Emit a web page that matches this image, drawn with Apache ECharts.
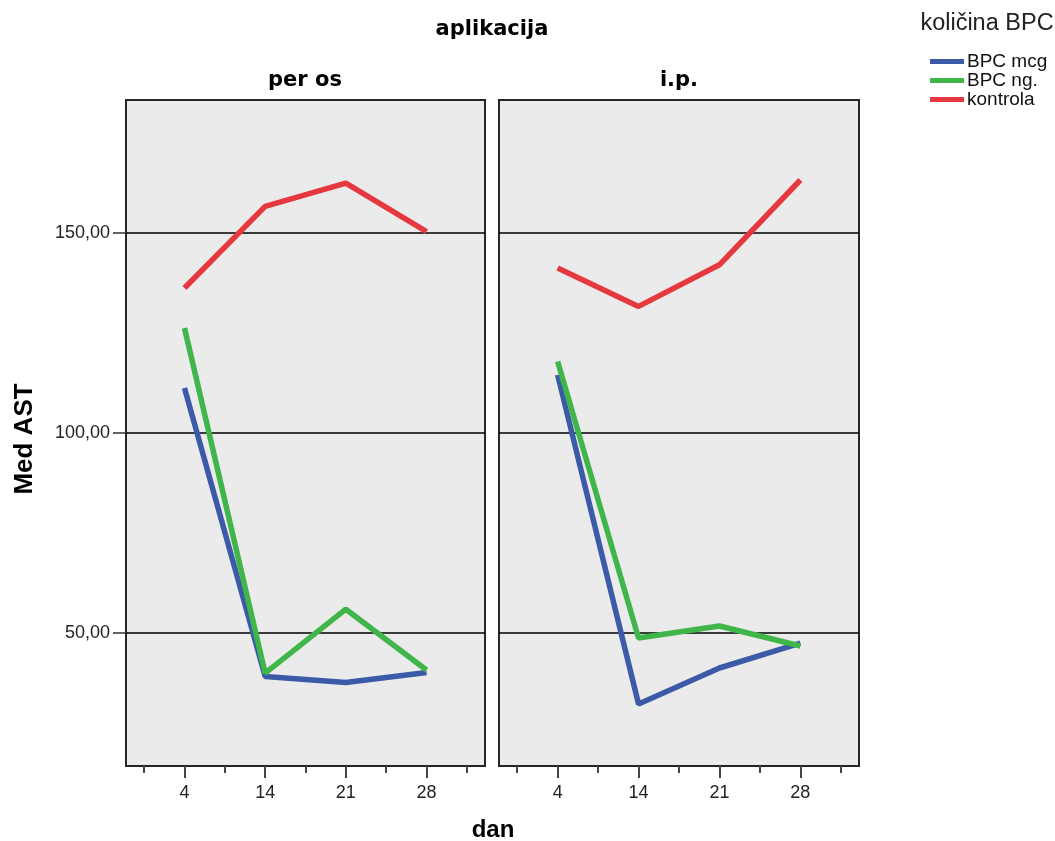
<!DOCTYPE html>
<html>
<head>
<meta charset="utf-8">
<script src="https://cdn.jsdelivr.net/npm/echarts@6/dist/echarts.min.js"></script>
<style>html,body{margin:0;padding:0;background:#fff;}#c{width:1055px;height:841px;}</style>
</head>
<body>
<div id="c"></div>
<script>
// ---- data ----
const days = ['4', '14', '21', '28'];
const panels = ['per os', 'i.p.'];
const seriesNames = ['BPC mcg', 'BPC ng.', 'kontrola'];
const perOsMcg = [111.3, 39.2, 37.7, 40.2];
const perOsNg = [126.3, 40.0, 56.0, 40.8];
const perOsKontrola = [136.3, 156.7, 162.5, 150.4];
const ipMcg = [114.6, 32.3, 41.3, 47.5];
const ipNg = [117.9, 48.8, 51.8, 46.8];
const ipKontrola = [141.3, 131.7, 142.1, 163.3];
const yTicks = [50, 100, 150];

const panelData = [
  [perOsMcg, perOsNg, perOsKontrola],
  [ipMcg, ipNg, ipKontrola]
];
const colors = ['#3b5aa8', '#3fb54a', '#e5383f'];

const grids = [
  { left: 126, top: 100, width: 359, height: 666 },
  { left: 499, top: 100, width: 360, height: 666 }
];

const xMin = -0.45, xMax = 8.45;
const majorPos = days.map((d, i) => 2 * i + 1);
const minorPos = [0, 2, 4, 6, 8];

const xAxes = [], yAxes = [], series = [];
grids.forEach((g, gi) => {
  xAxes.push({
    type: 'value', gridIndex: gi, min: xMin, max: xMax, position: 'bottom', offset: 0,
    axisLine: { show: false, onZero: false },
    axisTick: { show: true, customValues: minorPos, length: 7, lineStyle: { color: '#444', width: 2 } },
    axisLabel: { show: false },
    splitLine: { show: false }
  });
  xAxes.push({
    type: 'value', gridIndex: gi, min: xMin, max: xMax, position: 'bottom', offset: 0,
    axisLine: { show: false, onZero: false },
    axisTick: { show: true, customValues: majorPos, length: 12, lineStyle: { color: '#444', width: 2 } },
    axisLabel: {
      show: true, customValues: majorPos, margin: 18,
      fontFamily: 'Liberation Sans', fontSize: 18, color: '#222',
      formatter: v => days[Math.round((v - 1) / 2)]
    },
    splitLine: { show: false }
  });
  yAxes.push({
    type: 'value', gridIndex: gi, min: 16.8, max: 183.3, position: 'left',
    axisLine: { show: false, onZero: false },
    axisTick: { show: gi === 0, customValues: yTicks, length: 13, lineStyle: { color: '#333', width: 1.5 } },
    axisLabel: {
      show: gi === 0, customValues: yTicks, margin: 16,
      fontFamily: 'Liberation Sans', fontSize: 18, color: '#222',
      formatter: v => v.toFixed(2).replace('.', ',')
    },
    splitLine: { show: true, lineStyle: { color: '#000', width: 1.5 } }
  });
  panelData[gi].forEach((vals, si) => {
    series.push({
      type: 'line', name: seriesNames[si],
      xAxisIndex: gi * 2, yAxisIndex: gi,
      data: vals.map((v, i) => [majorPos[i], v]),
      symbol: 'none', showSymbol: false,
      lineStyle: { width: 5.5, color: colors[si] },
      itemStyle: { color: colors[si] },
      z: 3
    });
  });
});

const chart = echarts.init(document.getElementById('c'), null, { renderer: 'canvas' });
chart.setOption({
  animation: false,
  backgroundColor: '#ffffff',
  grid: grids.map(g => Object.assign({ show: true, backgroundColor: '#ebebeb', borderColor: '#262626', borderWidth: 2 }, g)),
  xAxis: xAxes,
  yAxis: yAxes,
  series: series,
  legend: {
    data: seriesNames, orient: 'vertical', left: 930, top: 52,
    icon: 'rect', itemWidth: 34, itemHeight: 5, itemGap: 0, padding: 0,
    selectedMode: false,
    textStyle: { fontFamily: 'Liberation Sans', fontSize: 19, lineHeight: 18, color: '#111', padding: [0, 0, 0, -2] }
  },
  graphic: [
    { type: 'text', x: 492, y: 30, style: { text: 'aplikacija', font: 'bold 21px "DejaVu Sans"', fill: '#000', textAlign: 'center', textVerticalAlign: 'middle' } },
    { type: 'text', x: 305, y: 81, style: { text: panels[0], font: 'bold 21px "DejaVu Sans"', fill: '#000', textAlign: 'center', textVerticalAlign: 'middle' } },
    { type: 'text', x: 679, y: 81, style: { text: panels[1], font: 'bold 21px "DejaVu Sans"', fill: '#000', textAlign: 'center', textVerticalAlign: 'middle' } },
    { type: 'text', x: 987, y: 24, style: { text: 'količina BPC', font: '23.5px "Liberation Sans"', fill: '#222', textAlign: 'center', textVerticalAlign: 'middle' } },
    { type: 'text', x: 25, y: 439, rotation: Math.PI / 2, style: { text: 'Med AST', font: 'bold 26px "Liberation Sans"', fill: '#000', textAlign: 'center', textVerticalAlign: 'middle' } },
    { type: 'text', x: 493, y: 830, style: { text: 'dan', font: 'bold 24px "Liberation Sans"', fill: '#000', textAlign: 'center', textVerticalAlign: 'middle' } }
  ]
});
</script>
</body>
</html>
